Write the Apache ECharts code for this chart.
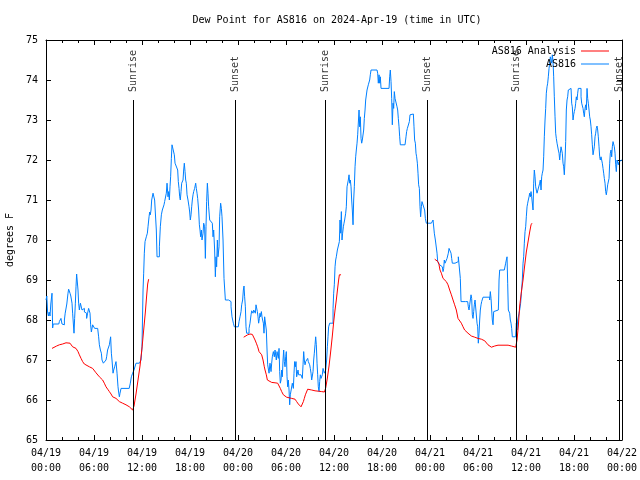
<!DOCTYPE html>
<html><head><meta charset="utf-8">
<script src="https://cdn.jsdelivr.net/npm/echarts@6/dist/echarts.min.js"></script>
<style>html,body{margin:0;padding:0;background:#fff}#c{width:640px;height:480px}</style>
</head><body><div id="c"></div>
<script>
// hours since 2024-04-19 00:00 UTC, dew point in degrees F
const dewSeries = [
[0.0,68.5],[0.1,68.6],[0.2,68.2],[0.3,68.1],[0.4,68.2],[0.5,68.1],[0.6,68.4],[0.75,68.67],[0.83,67.8],[0.9,67.9],[1.6,67.9],[1.67,67.96],[1.87,68.04],[2.0,67.9],[2.17,67.88],[2.3,68.0],[2.4,68.17],[2.6,68.4],[2.75,68.67],[2.83,68.77],[3.0,68.67],[3.1,68.6],[3.25,68.42],[3.33,68.17],[3.5,67.67],[3.58,68.04],[3.67,68.42],[3.75,68.83],[3.83,69.15],[3.96,69.15],[4.0,68.75],[4.08,68.42],[4.17,68.25],[4.3,68.42],[4.42,68.42],[4.5,68.25],[4.67,68.29],[4.8,68.2],[4.92,68.17],[5.08,68.04],[5.2,68.17],[5.33,68.29],[5.42,68.33],[5.5,68.17],[5.58,67.88],[5.67,67.7],[5.83,67.88],[5.92,67.83],[6.08,67.79],[6.46,67.79],[6.58,67.58],[6.67,67.38],[6.8,67.25],[6.92,67.17],[7.0,67.0],[7.17,66.92],[7.42,66.92],[7.5,67.0],[7.58,67.08],[7.7,67.25],[7.83,67.29],[7.92,67.38],[8.08,67.58],[8.17,67.17],[8.25,67.0],[8.38,66.67],[8.46,66.75],[8.58,66.83],[8.75,66.96],[8.88,66.67],[9.0,66.33],[9.08,66.2],[9.17,66.08],[9.25,66.17],[9.38,66.29],[10.4,66.29],[10.54,66.42],[10.67,66.58],[10.83,66.67],[11.0,66.75],[11.25,66.92],[11.67,66.93],[11.88,67.0],[12.0,67.33],[12.06,68.0],[12.13,68.75],[12.21,69.17],[12.29,69.67],[12.38,69.96],[12.54,70.08],[12.67,70.17],[12.75,70.33],[12.88,70.58],[12.96,70.7],[13.04,70.63],[13.13,70.75],[13.21,71.0],[13.29,71.04],[13.38,71.17],[13.46,71.13],[13.58,71.0],[13.71,70.96],[13.79,70.25],[13.88,69.58],[14.08,69.58],[14.17,69.83],[14.29,70.33],[14.42,70.63],[14.54,70.75],[14.63,70.79],[14.75,70.88],[14.83,70.96],[14.96,71.0],[15.04,71.17],[15.13,71.42],[15.25,71.08],[15.33,71.21],[15.42,71.0],[15.5,71.33],[15.58,71.58],[15.67,72.04],[15.75,72.38],[15.96,72.38],[16.04,72.13],[16.13,71.92],[16.38,71.92],[16.46,71.75],[16.54,71.46],[16.63,71.29],[16.71,71.08],[16.79,71.0],[16.88,71.21],[16.96,71.42],[17.13,71.5],[17.21,71.75],[17.29,71.92],[17.38,71.71],[17.46,71.5],[17.54,71.42],[17.63,71.13],[17.75,71.0],[17.88,70.83],[17.96,70.7],[18.04,70.5],[18.13,70.63],[18.21,70.83],[18.29,71.0],[18.38,71.13],[18.46,71.21],[18.58,71.29],[18.71,71.42],[18.79,71.29],[18.88,71.17],[18.96,71.04],[19.08,70.75],[19.17,70.38],[19.25,70.25],[19.33,70.08],[19.42,70.25],[19.5,70.0],[19.63,70.17],[19.71,70.42],[19.83,70.33],[19.92,69.54],[20.0,70.33],[20.08,70.96],[20.17,71.42],[20.25,71.17],[20.33,70.83],[20.46,70.5],[20.58,70.5],[20.71,70.46],[20.79,70.42],[20.88,70.08],[20.96,70.25],[21.08,69.75],[21.17,69.08],[21.25,69.58],[21.33,69.33],[21.42,70.0],[21.5,69.58],[21.63,69.83],[21.71,70.58],[21.83,70.92],[21.92,70.79],[22.0,70.58],[22.13,70.0],[22.25,69.04],[22.33,69.04],[22.42,68.5],[22.63,68.5],[22.83,68.46],[23.13,68.33],[23.25,68.08],[23.42,67.92],[23.54,67.83],[24.04,67.83],
[24.13,67.96],[24.25,68.08],[24.38,68.21],[24.46,68.38],[24.58,68.5],[24.67,68.75],[24.75,68.85],[24.83,68.58],[24.92,68.33],[25.0,67.83],[25.08,67.67],[25.29,67.67],[25.38,67.79],[25.5,67.92],[25.63,68.13],[25.71,68.23],[25.79,68.21],[25.88,68.17],[25.96,68.25],[26.04,68.21],[26.17,68.17],[26.25,68.38],[26.33,68.42],[26.42,68.21],[26.5,68.08],[26.58,67.92],[26.67,68.04],[26.75,68.17],[26.83,68.08],[26.92,68.21],[27.0,68.08],[27.08,68.0],[27.17,67.92],[27.25,67.67],[27.33,68.08],[27.42,68.08],[27.54,67.75],[27.63,67.25],[27.71,66.88],[27.79,66.83],[27.88,66.67],[28.0,66.92],[28.13,66.71],[28.21,66.92],[28.29,67.08],[28.42,67.21],[28.54,67.08],[28.63,67.25],[28.71,67.21],[28.79,67.0],[28.88,67.21],[29.04,67.04],[29.13,67.29],[29.21,66.71],[29.29,66.42],[29.38,66.5],[29.46,66.75],[29.54,66.58],[29.63,67.0],[29.71,67.25],[29.79,66.96],[29.88,66.83],[29.96,67.08],[30.04,67.21],[30.13,66.58],[30.21,66.33],[30.29,66.5],[30.38,66.25],[30.46,65.88],[30.54,66.13],[30.63,66.08],[30.71,66.17],[30.79,66.42],[30.92,66.29],[31.0,66.67],[31.08,66.96],[31.17,66.83],[31.25,66.96],[31.33,66.58],[31.42,66.58],[31.5,66.75],[31.58,66.63],[31.67,66.58],[31.79,66.63],[31.88,66.58],[31.96,66.67],[32.04,66.54],[32.13,66.88],[32.21,67.21],[32.29,67.0],[32.38,66.88],[32.46,66.96],[32.58,67.0],[32.71,67.04],[32.79,66.96],[32.88,66.92],[32.96,66.88],[33.04,66.79],[33.13,66.67],[33.21,66.5],[33.29,66.54],[33.38,66.71],[33.46,67.0],[33.54,67.17],[33.63,67.38],[33.71,67.58],[33.79,67.38],[33.88,66.92],[33.96,66.63],[34.04,66.33],[34.13,66.21],[34.21,66.46],[34.29,66.63],[34.38,66.54],[34.46,66.58],[34.54,66.63],[34.63,66.79],[34.71,66.75],[34.79,66.67],[34.88,66.63],[34.96,66.75],[35.08,67.0],[35.17,67.33],[35.25,67.58],[35.33,67.83],[35.46,67.92],[35.63,67.92],[35.88,68.29],[35.96,68.67],[36.04,68.88],[36.13,69.33],[36.21,69.5],[36.29,69.58],[36.42,69.75],[36.58,69.75],[36.67,69.96],[36.75,70.5],[36.83,70.17],[36.92,70.71],[37.0,70.0],[37.08,70.17],[37.17,70.33],[37.25,70.42],[37.33,70.5],[37.46,70.67],[37.54,70.83],[37.63,71.33],[37.71,71.38],[37.79,71.5],[37.88,71.63],[37.96,71.42],[38.04,71.5],[38.13,71.33],[38.21,71.0],[38.29,70.75],[38.38,70.38],[38.46,71.0],[38.54,71.33],[38.63,71.83],[38.71,72.08],[38.79,72.25],[38.88,72.42],[38.96,72.63],[39.04,72.67],[39.13,73.25],[39.21,72.83],[39.29,73.08],[39.38,72.54],[39.46,72.42],[39.54,72.5],[39.63,72.54],[39.71,72.75],[39.79,73.04],[39.88,73.25],[39.96,73.5],[40.04,73.54],[40.13,73.75],[40.21,73.79],[40.29,73.88],[40.38,73.92],[40.46,74.0],[40.54,74.13],[40.63,74.25],[41.38,74.27],[41.46,74.17],[41.54,73.92],[41.63,74.13],[41.71,73.92],[41.79,74.08],[41.88,73.79],[42.88,73.79],[42.96,74.08],[43.04,74.25],[43.13,73.96],[43.21,73.54],[43.29,72.88],[43.38,73.42],[43.46,73.29],[43.54,73.71],[43.63,73.54],[43.71,73.58],[43.79,73.5],[43.88,73.33],[43.96,73.25],[44.04,73.04],[44.13,72.83],[44.21,72.58],[44.29,72.38],[44.88,72.33],[44.92,72.42],[45.0,72.58],[45.08,72.71],[45.17,72.79],[45.25,72.75],[45.33,72.83],[45.42,72.96],[45.5,73.13],[45.63,73.15],[45.92,73.13],[46.0,72.83],[46.08,72.5],[46.17,72.42],[46.25,72.17],[46.33,72.08],[46.42,71.92],[46.5,71.67],[46.58,71.38],[46.67,71.29],[46.75,70.83],[46.83,70.58],[46.92,70.83],[47.0,70.96],[47.08,70.92],[47.17,70.96],[47.25,70.92],[47.33,70.75],[47.42,70.54],[47.54,70.42],[48.17,70.42],
[48.38,70.5],[48.54,70.17],[48.67,70.0],[48.79,70.0],[48.88,69.67],[48.96,69.46],[49.13,69.42],[49.21,69.38],[49.42,69.33],[49.54,69.29],[49.63,69.21],[49.71,69.29],[49.79,69.5],[49.88,69.42],[49.96,69.46],[50.04,69.42],[50.13,69.54],[50.21,69.58],[50.29,69.67],[50.38,69.79],[50.46,69.79],[50.54,69.75],[50.63,69.67],[50.71,69.54],[50.79,69.42],[51.13,69.42],[51.33,69.46],[51.54,69.58],[51.71,69.58],[51.79,69.04],[51.88,68.46],[52.42,68.46],[52.54,68.42],[52.63,68.42],[52.71,68.46],[52.79,68.33],[52.88,68.25],[52.96,68.38],[53.04,68.5],[53.13,68.63],[53.21,68.54],[53.29,68.13],[53.38,68.04],[53.46,68.21],[53.54,68.38],[53.63,68.5],[53.79,68.5],[53.88,67.92],[53.96,67.83],[54.04,67.42],[54.13,67.67],[54.21,68.0],[54.29,68.25],[54.38,68.38],[54.46,68.46],[54.54,68.5],[54.63,68.57],[55.46,68.5],[55.54,68.71],[55.63,68.54],[55.71,68.25],[55.79,68.0],[55.88,67.88],[55.96,68.21],[56.04,68.25],[56.54,68.25],[56.58,68.5],[56.63,69.0],[56.71,69.25],[57.29,69.21],[57.38,69.25],[57.46,69.42],[57.54,69.5],[57.63,69.58],[57.71,68.92],[57.79,68.25],[57.88,68.21],[57.96,68.17],[58.04,68.0],[58.13,67.92],[58.21,67.79],[58.29,67.58],[58.71,67.63],[58.79,67.92],[58.88,67.75],[58.96,68.0],[59.13,68.17],[59.21,68.25],[59.33,68.42],[59.42,68.67],[59.54,69.0],[59.63,69.42],[59.71,69.58],[59.79,69.92],[59.88,70.21],[59.96,70.33],[60.04,70.58],[60.13,70.83],[60.21,70.92],[60.29,71.0],[60.38,71.08],[60.46,71.17],[60.54,71.08],[60.63,71.21],[60.71,71.08],[60.79,71.08],[60.88,70.75],[60.96,71.42],[61.04,71.75],[61.13,71.58],[61.21,71.33],[61.29,71.25],[61.38,71.17],[61.46,71.13],[61.54,71.17],[61.63,71.17],[61.71,71.42],[61.79,71.5],[61.88,71.25],[61.96,71.58],[62.04,71.67],[62.13,71.75],[62.21,72.08],[62.29,72.58],[62.38,73.0],[62.46,73.29],[62.54,73.67],[62.63,73.83],[62.71,73.92],[62.79,74.08],[62.88,74.29],[62.96,74.42],[63.04,74.58],[63.13,74.63],[63.21,74.42],[63.29,74.63],[63.38,74.46],[63.46,74.08],[63.54,73.58],[63.63,73.08],[63.71,72.67],[63.79,72.54],[63.88,72.42],[63.96,72.42],[64.04,72.25],[64.13,72.17],[64.21,72.0],[64.29,72.17],[64.38,72.33],[64.46,72.38],[64.54,72.17],[64.63,71.92],[64.71,71.83],[64.79,71.63],[64.88,72.0],[64.96,72.46],[65.04,73.25],[65.13,73.5],[65.21,73.58],[65.29,73.75],[65.38,73.79],[65.63,73.79],[65.71,73.42],[65.79,73.33],[65.88,73.0],[65.96,73.13],[66.04,73.21],[66.13,73.29],[66.21,73.42],[66.29,73.58],[66.38,73.5],[66.46,73.67],[66.54,73.79],[66.79,73.79],[66.88,73.58],[66.96,73.42],[67.04,73.38],[67.13,73.29],[67.21,73.17],[67.29,73.08],[67.38,73.29],[67.46,73.38],[67.54,73.25],[67.63,73.79],[67.71,73.54],[67.79,73.42],[67.88,73.25],[67.96,73.08],[68.04,73.0],[68.13,72.83],[68.21,72.63],[68.29,72.38],[68.38,72.13],[68.46,72.08],[68.54,72.33],[68.63,72.58],[68.71,72.67],[68.79,72.79],[68.88,72.85],[68.96,72.75],[69.04,72.58],[69.13,72.33],[69.21,72.08],[69.29,72.0],[69.38,72.08],[69.46,72.08],[69.54,71.92],[69.63,71.79],[69.71,71.67],[69.79,71.54],[69.88,71.42],[69.96,71.21],[70.04,71.13],[70.13,71.25],[70.21,71.38],[70.29,71.42],[70.38,71.54],[70.46,71.92],[70.54,72.17],[70.63,72.25],[70.71,72.08],[70.79,72.33],[70.88,72.46],[70.96,72.5],[71.04,72.33],[71.13,72.17],[71.21,71.88],[71.29,71.71],[71.38,72.0],[71.46,72.04],[71.54,71.88],[71.63,71.96],[71.75,72.0],[72.0,72.0]
];
// analysis: three segments, null separates them
const analysisSeries = [
[0.75,67.29],[1.0,67.31],[1.33,67.35],[1.67,67.38],[2.08,67.4],[2.5,67.43],[2.75,67.46],[3.0,67.42],[3.33,67.33],[3.75,67.29],[4.0,67.21],[4.17,67.13],[4.38,67.04],[4.58,66.96],[4.79,66.9],[5.0,66.88],[5.42,66.83],[5.83,66.79],[6.04,66.75],[6.25,66.68],[6.46,66.63],[6.67,66.58],[6.88,66.54],[7.08,66.5],[7.29,66.42],[7.5,66.33],[7.71,66.27],[7.92,66.21],[8.13,66.15],[8.33,66.08],[8.75,66.04],[9.0,66.0],[9.17,65.96],[9.38,65.94],[9.58,65.92],[10.0,65.88],[10.42,65.83],[10.63,65.79],[10.83,65.75],[11.0,65.85],[11.25,66.15],[11.5,66.5],[11.75,66.85],[12.0,67.3],[12.21,67.75],[12.42,68.2],[12.58,68.6],[12.71,68.9],[12.83,69.02],
null,
[24.71,67.57],[24.96,67.58],[25.21,67.63],[25.5,67.65],[25.79,67.64],[25.96,67.63],[26.13,67.5],[26.29,67.42],[26.46,67.33],[26.63,67.21],[26.79,67.17],[26.96,67.13],[27.13,67.0],[27.29,66.83],[27.38,66.75],[27.54,66.63],[27.67,66.5],[27.79,66.46],[28.21,66.44],[28.63,66.43],[28.96,66.42],[29.13,66.38],[29.29,66.29],[29.46,66.21],[29.67,66.13],[29.88,66.08],[30.08,66.07],[30.29,66.04],[30.71,66.04],[30.92,66.03],[31.13,66.02],[31.33,65.96],[31.54,65.9],[31.75,65.85],[31.88,65.83],[32.04,65.88],[32.17,65.96],[32.29,66.04],[32.42,66.13],[32.54,66.18],[32.71,66.27],[32.88,66.27],[33.21,66.25],[33.63,66.23],[34.04,66.22],[34.46,66.21],[34.8,66.2],[34.96,66.3],[35.17,66.55],[35.38,66.85],[35.58,67.2],[35.79,67.6],[35.96,67.95],[36.13,68.25],[36.29,68.5],[36.46,68.8],[36.58,69.0],[36.67,69.13],[36.88,69.13],
null,
[48.59,69.52],[48.84,69.52],[49.0,69.46],[49.13,69.38],[49.25,69.25],[49.42,69.17],[49.63,69.04],[49.83,69.02],[50.04,68.96],[50.25,68.88],[50.46,68.75],[50.67,68.63],[50.88,68.5],[51.08,68.38],[51.29,68.25],[51.5,68.04],[51.71,68.0],[51.92,67.92],[52.13,67.83],[52.33,67.75],[52.55,67.71],[52.75,67.67],[52.96,67.64],[53.17,67.6],[53.38,67.58],[53.59,67.57],[53.8,67.56],[54.0,67.54],[54.21,67.53],[54.42,67.52],[54.63,67.5],[54.84,67.48],[55.04,67.43],[55.25,67.38],[55.46,67.33],[55.67,67.32],[55.88,67.33],[56.09,67.35],[56.3,67.36],[56.5,67.37],[57.0,67.37],[57.5,67.37],[57.76,67.37],[58.17,67.35],[58.38,67.33],[58.71,67.32],[58.88,67.5],[59.04,67.85],[59.21,68.35],[59.42,68.7],[59.63,69.0],[59.83,69.35],[60.04,69.7],[60.25,69.95],[60.46,70.2],[60.63,70.38],[60.75,70.42]
];
const sunHours = [10.88, 23.63, 34.93, 47.65, 58.75, 71.63];
const sunNames = ['Sunrise','Sunset','Sunrise','Sunset','Sunrise','Sunset'];
const dayLabels = ['04/19','04/20','04/21','04/22'];
const hourLabels = ['00:00','06:00','12:00','18:00'];
const seriesNames = ['AS816 Analysis','AS816'];

const FONT = 'DejaVu Sans Mono';
const chart = echarts.init(document.getElementById('c'), null, {renderer:'canvas'});
const axisCommon = {
  axisLine:{show:true,onZero:false,lineStyle:{color:'#000',width:1}},
  splitLine:{show:false}
};
chart.setOption({
  animation:false,
  backgroundColor:'#fff',
  title:{text:'Dew Point for AS816 on 2024-Apr-19 (time in UTC)', left:332, top:10, textAlign:'center',
    textStyle:{fontFamily:FONT,fontSize:10,fontWeight:'normal',color:'#000'}},
  legend:{data:seriesNames, orient:'vertical', left:'auto', right:31, top:45, bottom:'auto', align:'right',
    icon:'rect', itemWidth:28, itemHeight:1, itemGap:1, padding:0,
    textStyle:{fontFamily:FONT,fontSize:10,color:'#000',lineHeight:12}},
  grid:{left:46,right:18,top:40,bottom:40,containLabel:false,outerBoundsMode:'none'},
  xAxis:[
    Object.assign({type:'value',position:'bottom',min:0,max:72,interval:6,
      axisTick:{show:true,inside:true,length:5,lineStyle:{color:'#000'}},
      minorTick:{show:true,splitNumber:3,length:3,lineStyle:{color:'#000'}},
      axisLabel:{show:true,showMinLabel:true,showMaxLabel:true,margin:6,fontFamily:FONT,fontSize:10,color:'#000',lineHeight:15,
        formatter:v=>dayLabels[Math.floor(v/24)]+'\n'+hourLabels[(v%24)/6]}},axisCommon),
    Object.assign({type:'value',position:'top',min:0,max:72,interval:6,
      axisTick:{show:true,inside:true,length:5,lineStyle:{color:'#000'}},
      minorTick:{show:true,splitNumber:3,length:3,lineStyle:{color:'#000'}},
      axisLabel:{show:false}},axisCommon)
  ],
  yAxis:[
    Object.assign({type:'value',position:'left',min:65,max:75,interval:1,
      name:'degrees F',nameLocation:'middle',nameGap:30,nameRotate:90,
      nameTextStyle:{fontFamily:FONT,fontSize:10,color:'#000'},
      axisTick:{show:true,inside:true,length:5,lineStyle:{color:'#000'}},
      axisLabel:{show:true,margin:8,fontFamily:FONT,fontSize:10,color:'#000'}},axisCommon),
    Object.assign({type:'value',position:'right',min:65,max:75,interval:1,
      axisTick:{show:true,inside:true,length:5,lineStyle:{color:'#000'}},
      axisLabel:{show:false}},axisCommon)
  ],
  series:[
    {name:seriesNames[0],type:'line',data:analysisSeries,symbol:'none',showSymbol:false,connectNulls:false,
      lineStyle:{color:'#ff0000',width:1},itemStyle:{color:'#ff0000'},z:3},
    {name:seriesNames[1],type:'line',data:dewSeries,symbol:'none',showSymbol:false,step:'end',
      lineStyle:{color:'#0080ff',width:1},itemStyle:{color:'#0080ff'},z:2},
    {name:'sun',type:'scatter',data:sunHours.map((h,i)=>[h,73.5,sunNames[i]]),symbolSize:0,silent:true,z:4,
      label:{show:true,position:'top',distance:7,offset:[1,0],rotate:90,align:'left',verticalAlign:'middle',
        formatter:p=>p.data[2],fontFamily:FONT,fontSize:10,color:'#000'},
      markLine:{silent:true,symbol:['none','none'],label:{show:false},
        lineStyle:{color:'#000',width:1,type:'solid'},
        data:sunHours.map(h=>[{coord:[h,65]},{coord:[h,73.5]}])}}
  ]
});
</script></body></html>
